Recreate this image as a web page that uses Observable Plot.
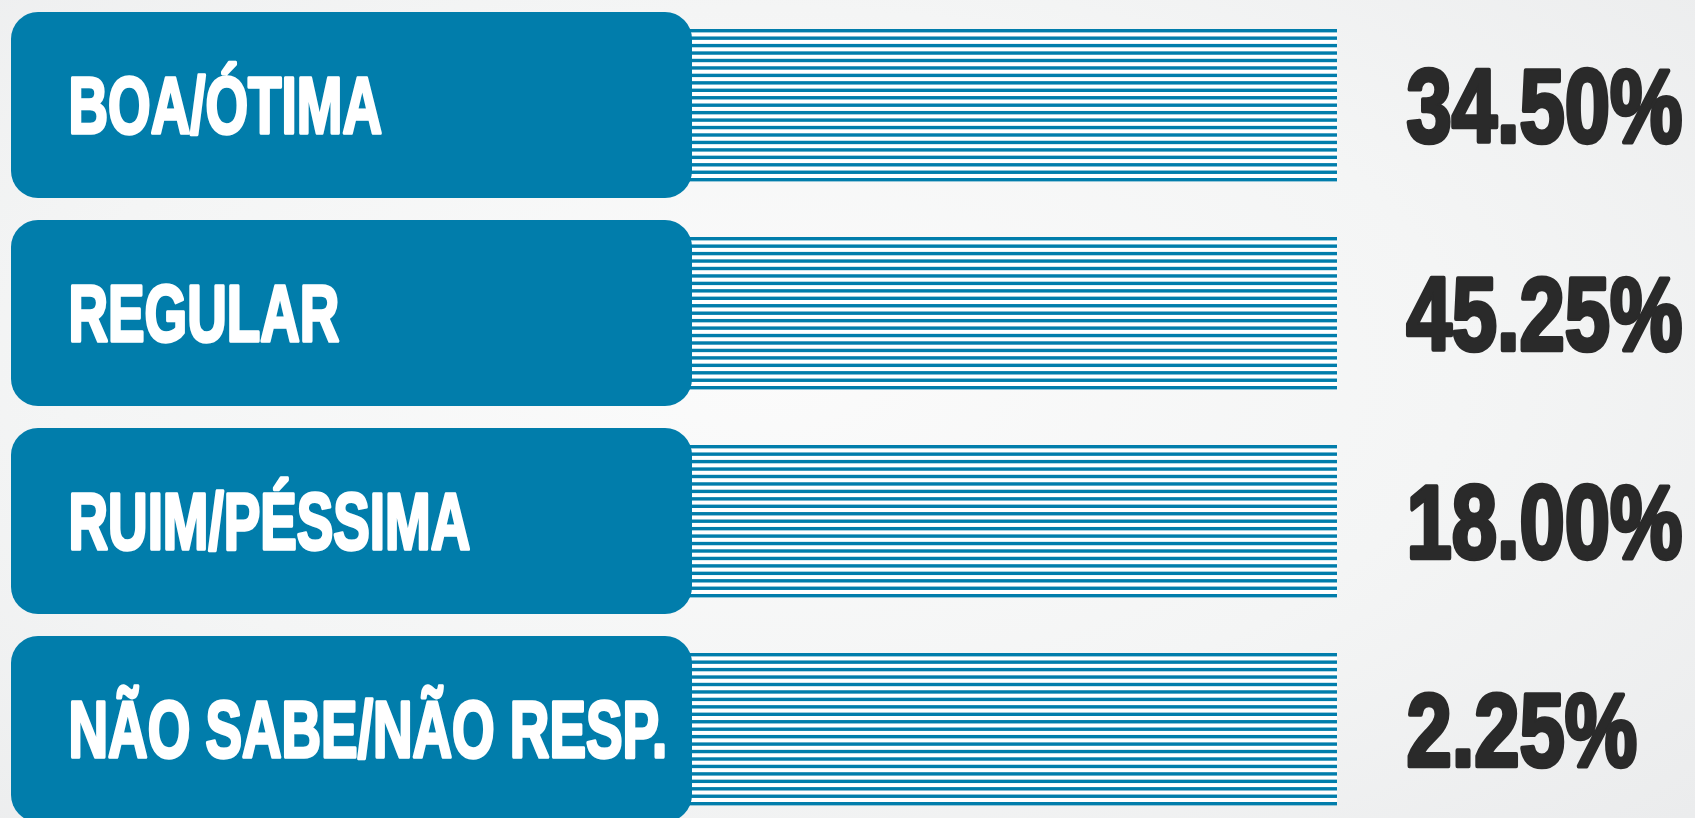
<!DOCTYPE html>
<html>
<head>
<meta charset="utf-8">
<script src="https://cdn.jsdelivr.net/npm/d3@7"></script>
<script src="https://cdn.jsdelivr.net/npm/@observablehq/plot@0.6"></script>
<style>
  html, body { margin: 0; padding: 0; width: 1695px; height: 818px; overflow: hidden; }
  body { background: radial-gradient(ellipse 75% 80% at 45% 45%, #fbfbfb 0%, #f4f5f5 55%, #ebeced 100%); }
  #chart svg { display: block; }
</style>
</head>
<body>
<div id="chart"></div>
<script>
// ---- data ----
const categories = ["BOA/ÓTIMA", "REGULAR", "RUIM/PÉSSIMA", "NÃO SABE/NÃO RESP."];
const values = [34.50, 45.25, 18.00, 2.25];
const valueLabels = values.map(v => v.toFixed(2) + "%");

const rows = categories.map((c, i) => ({ category: c, value: values[i], label: valueLabels[i] }));

// ---- layout / style ----
const W = 1695, H = 818;
const BLUE = "#017dab";
const DARK = "#2a2a2a";
const layout = { boxX1: 11, boxX2: 692, stripeX1: 680, stripeX2: 1337, labelX: 68, valueX: 1406 };
const BAND = 187;                 // band height in px (from the y scale below)
const STRIPES = 21, STRIPE_TOP = 17, STRIPE_STEP = 7.45, STRIPE_THICK = 4.4;
const FONT = "'Liberation Sans', Arial, sans-serif";

const stripeMarks = d3.range(STRIPES).map(k => {
  const top = STRIPE_TOP + k * STRIPE_STEP;
  return Plot.barX(rows, {
    x1: () => layout.stripeX1, x2: () => layout.stripeX2, y: "category",
    fill: BLUE, insetTop: top, insetBottom: BAND - top - STRIPE_THICK
  });
});

const chart = Plot.plot({
  width: W,
  height: H,
  margin: 0,
  style: { background: "transparent", overflow: "visible" },
  x: { type: "linear", domain: [0, W], range: [0, W], axis: null },
  y: { type: "band", domain: categories, range: [10, 824], paddingInner: 0.105, paddingOuter: 0, axis: null },
  marks: [
    // white ground under the stripes
    Plot.barX(rows, {
      x1: () => layout.stripeX1, x2: () => layout.stripeX2, y: "category",
      fill: "#ffffff", insetTop: STRIPE_TOP,
      insetBottom: BAND - STRIPE_TOP - ((STRIPES - 1) * STRIPE_STEP + STRIPE_THICK)
    }),
    ...stripeMarks,
    Plot.barX(rows, {
      x1: () => layout.boxX1, x2: () => layout.boxX2, y: "category",
      fill: BLUE, rx: 27, ry: 27
    }),
    Plot.text(rows, {
      x: () => layout.labelX, y: "category", text: "category",
      textAnchor: "start", fill: "#ffffff", stroke: "#ffffff", strokeWidth: 3.5,
      fontFamily: FONT, fontWeight: "bold", fontSize: 80, dy: 2
    }),
    Plot.text(rows, {
      x: () => layout.valueX, y: "category", text: "label",
      textAnchor: "start", fill: DARK, stroke: DARK, strokeWidth: 4.5,
      fontFamily: FONT, fontWeight: "bold", fontSize: 103, dy: 4
    })
  ]
});

document.getElementById("chart").append(chart);

// condense the glyphs horizontally (heavy condensed display type)
const catSet = new Set(categories), valSet = new Set(valueLabels);
chart.querySelectorAll("text").forEach(t => {
  const s = t.textContent;
  const f = catSet.has(s) ? 0.685 : valSet.has(s) ? 0.79 : null;
  if (f == null) return;
  const tr = t.getAttribute("transform");
  if (tr) {
    t.setAttribute("transform", `${tr} scale(${f},1)`);
  } else {
    const x = +t.getAttribute("x") || 0, y = +t.getAttribute("y") || 0;
    t.removeAttribute("x"); t.removeAttribute("y");
    t.setAttribute("transform", `translate(${x},${y}) scale(${f},1)`);
  }
});
</script>
</body>
</html>
